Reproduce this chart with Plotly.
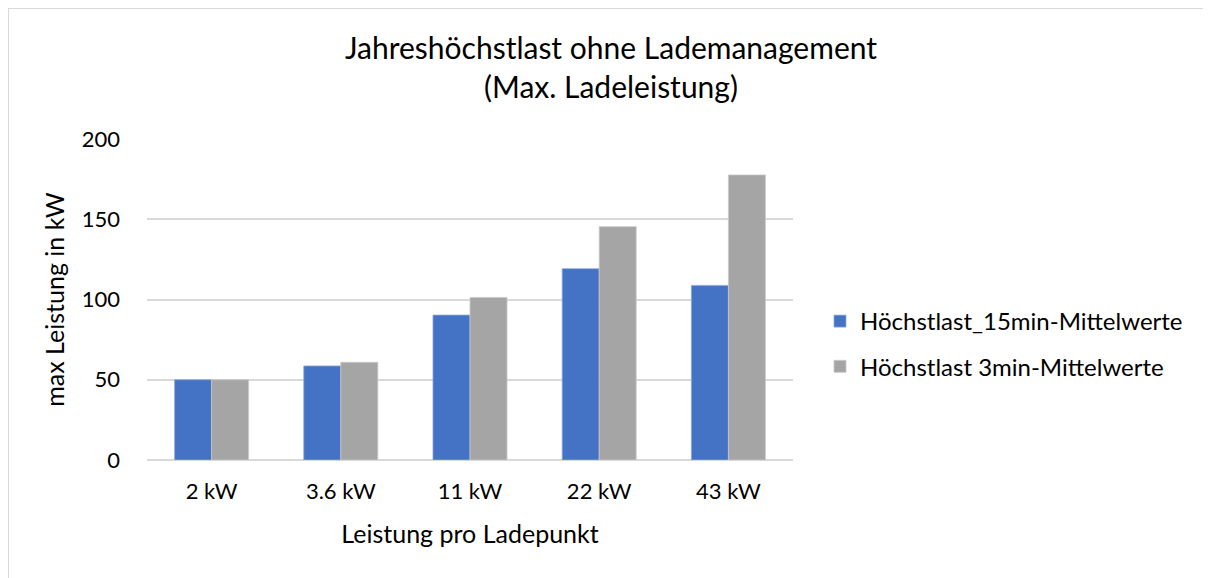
import plotly.graph_objects as go

categories = ["2 kW", "3.6 kW", "11 kW", "22 kW", "43 kW"]
series_15min = [50.0, 58.6, 90.3, 119.2, 108.8]
series_3min = [50.0, 60.9, 101.3, 145.4, 177.6]
name_15 = "Höchstlast_15min-Mittelwerte"
name_3 = "Höchstlast 3min-Mittelwerte"
y_ticks = [0, 50, 100, 150, 200]

FONT = "Lato, 'Open Sans', sans-serif"

W, H = 1211, 578
ml, mt = 139, 131
pw, ph = 646, 321
mr = W - ml - pw
mb = H - mt - ph

def px_x(p):
    return (p - ml) / pw

def px_y(p):
    return (mt + ph - p) / ph

fig = go.Figure()
fig.add_trace(go.Bar(x=categories, y=series_15min, name=name_15,
                     marker=dict(color="#4472C4", line=dict(color="#8faadc", width=0.8)),
                     legendgroup="a"))
fig.add_trace(go.Bar(x=categories, y=series_3min, name=name_3,
                     marker=dict(color="#A5A5A5", line=dict(color="#c9c9c9", width=0.8)),
                     legendgroup="b"))

fig.update_layout(
    width=W, height=H,
    margin=dict(l=ml, r=mr, t=mt, b=mb),
    paper_bgcolor="white", plot_bgcolor="white",
    font=dict(family=FONT, color="#000000", size=22),
    title=dict(text="Jahreshöchstlast ohne Lademanagement<br>(Max. Ladeleistung)",
               x=(611 - 8) / W, xanchor="center", xref="container",
               y=0.912, yanchor="top", yref="container",
               font=dict(family=FONT, size=30, color="#000000")),
    barmode="group", bargap=0.427, bargroupgap=0,
    legend=dict(x=px_x(812), y=px_y(291), xanchor="left", yanchor="top",
                font=dict(family=FONT, size=24), traceorder="grouped",
                tracegroupgap=11, itemwidth=30, bgcolor="rgba(0,0,0,0)"),
    xaxis=dict(title=dict(text="Leistung pro Ladepunkt", font=dict(size=25), standoff=22),
               tickfont=dict(size=22), showgrid=False, showline=False, ticks="",
               ticklabelstandoff=16),
    yaxis=dict(title=dict(text="max Leistung in kW", font=dict(size=25), standoff=9),
               range=[0, 200], tickvals=y_ticks, tickfont=dict(size=22),
               showgrid=True, gridcolor="#d9d9d9", gridwidth=1.5,
               zeroline=True, zerolinecolor="#d9d9d9", zerolinewidth=1.5,
               showline=False, ticks="", ticklabelstandoff=26),
    shapes=[dict(type="rect", xref="paper", yref="paper",
                 x0=px_x(0.5), x1=px_x(1300), y0=px_y(700), y1=px_y(0.5),
                 line=dict(color="#d9d9d9", width=1.2), fillcolor="rgba(0,0,0,0)",
                 layer="below")],
)

fig.write_html("out.html")
